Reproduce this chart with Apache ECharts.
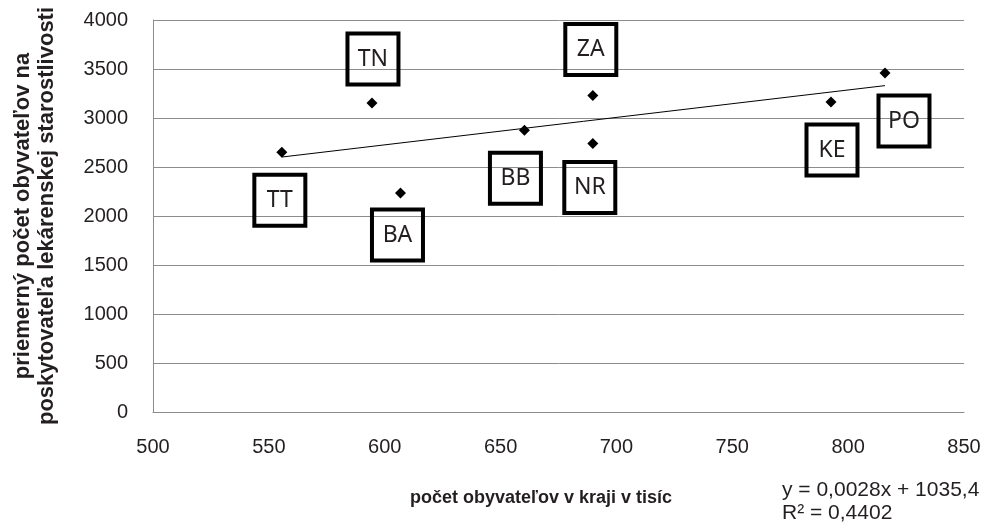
<!DOCTYPE html>
<html>
<head>
<meta charset="utf-8">
<script src="https://cdn.jsdelivr.net/npm/echarts@6/dist/echarts.min.js"></script>
<style>
html,body{margin:0;padding:0;background:#fff;}
#chart{width:985px;height:527px;}
</style>
</head>
<body>
<div id="chart"></div>
<script>
// ---- data ----
const regions = ['TT', 'TN', 'BA', 'BB', 'ZA', 'NR', 'KE', 'PO'];
const populationThousands = [555.6, 594.5, 606.8, 660.3, 689.8, 689.8, 792.6, 815.9];
const residentsPerPharmacy = [2650, 3153, 2235, 2874, 3229, 2739, 3163, 3459];
const xTicks = [500, 550, 600, 650, 700, 750, 800, 850];
const yTicks = [0, 500, 1000, 1500, 2000, 2500, 3000, 3500, 4000];
const equationText = 'y = 0,0028x + 1035,4';
const r2Text = 'R² = 0,4402';

// ---- label box placement (style, not data) ----
const labelOffsets = {
  TT: [-2, 48], TN: [1, -44], BA: [-3, 42], BB: [-9, 48],
  ZA: [-2, -46], NR: [-3, 44], KE: [1, 48], PO: [19, 48]
};

// linear regression (trendline) computed from the data
const n = populationThousands.length;
const mx = populationThousands.reduce((a, b) => a + b, 0) / n;
const my = residentsPerPharmacy.reduce((a, b) => a + b, 0) / n;
let sxy = 0, sxx = 0;
for (let i = 0; i < n; i++) {
  sxy += (populationThousands[i] - mx) * (residentsPerPharmacy[i] - my);
  sxx += (populationThousands[i] - mx) ** 2;
}
const slope = sxy / sxx;
const intercept = my - slope * mx;
const xMin = Math.min(...populationThousands);
const xMax = Math.max(...populationThousands);
const trendData = [[xMin, intercept + slope * xMin], [xMax, intercept + slope * xMax]];

const scatterData = regions.map((r, i) => ({
  name: r,
  value: [populationThousands[i], residentsPerPharmacy[i]],
  label: { offset: labelOffsets[r] }
}));

const chart = echarts.init(document.getElementById('chart'), null, { renderer: 'canvas' });
const FONT = '"Liberation Sans", Arial, sans-serif';
const axisFont = { fontFamily: FONT, fontSize: 20, color: '#231f20' };

chart.setOption({
  backgroundColor: '#ffffff',
  animation: false,
  grid: { left: 153, right: 21, top: 20, bottom: 115, containLabel: false },
  xAxis: {
    type: 'value',
    min: xTicks[0], max: xTicks[xTicks.length - 1], interval: 50,
    axisLine: { show: true, onZero: false, lineStyle: { color: '#8c8c8c', width: 1 } },
    axisTick: { show: false },
    splitLine: { show: false },
    axisLabel: Object.assign({ margin: 25, formatter: v => String(v) }, axisFont),
    name: 'počet obyvateľov v kraji v tisíc',
    nameLocation: 'middle',
    nameGap: 77,
    nameTextStyle: {
      fontFamily: FONT, fontSize: 18, fontWeight: 'bold',
      color: '#231f20', padding: [0, 35, 0, 0]
    }
  },
  yAxis: {
    type: 'value',
    min: yTicks[0], max: yTicks[yTicks.length - 1], interval: 500,
    axisLine: { show: true, lineStyle: { color: '#8c8c8c', width: 1 } },
    axisTick: { show: false },
    splitLine: { show: true, lineStyle: { color: '#8c8c8c', width: 1 } },
    axisLabel: Object.assign({ margin: 25, formatter: v => String(v) }, axisFont),
    name: 'priemerný počet obyvateľov na\nposkytovateľa lekárenskej starostlivosti',
    nameLocation: 'middle',
    nameGap: 94,
    nameTextStyle: {
      fontFamily: FONT, fontSize: 22, fontWeight: 'bold',
      color: '#231f20', lineHeight: 24
    }
  },
  series: [
    {
      type: 'line',
      data: trendData,
      symbol: 'none',
      lineStyle: { color: '#000000', width: 1 },
      silent: true,
      z: 2
    },
    {
      type: 'scatter',
      data: scatterData,
      symbol: 'diamond',
      symbolSize: [11, 11],
      itemStyle: { color: '#000000', opacity: 1 },
      z: 3,
      label: {
        show: true,
        position: 'inside',
        formatter: '{b}',
        fontFamily: '"Noto Sans", "Open Sans", sans-serif',
        fontSize: 23,
        color: '#231f20',
        width: 51,
        height: 51,
        lineHeight: 51,
        align: 'center',
        verticalAlign: 'middle',
        borderColor: '#000000',
        borderWidth: 2,
        padding: 0,
        backgroundColor: 'transparent'
      }
    }
  ],
  graphic: [
    {
      type: 'text',
      left: 782, top: 479,
      style: {
        text: equationText + '\n' + r2Text,
        fontFamily: FONT,
        fontSize: 21,
        lineHeight: 23,
        fill: '#231f20'
      }
    }
  ]
});
</script>
</body>
</html>
